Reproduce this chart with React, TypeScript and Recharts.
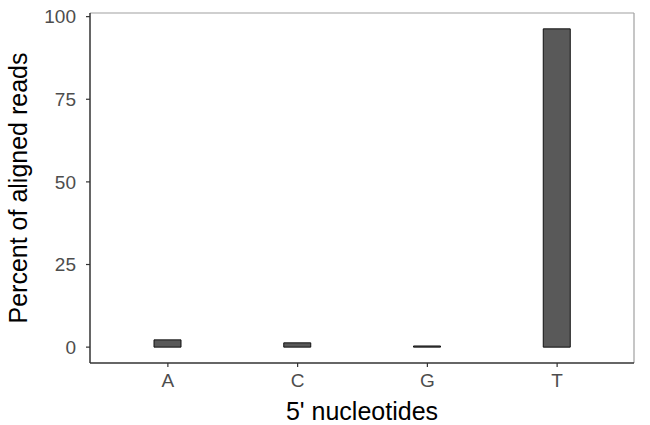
import { BarChart, Bar, XAxis, YAxis, CartesianGrid, Label } from 'recharts'

const nucleotides = ['A', 'C', 'G', 'T']
const percents = [2.2, 1.3, 0.35, 96.3]
const yTicks = [0, 25, 50, 75, 100]

const data = nucleotides.map((name, i) => ({ name, percent: percents[i] }))

const FONT = '"Liberation Sans", Arial, sans-serif'

export default function App() {
  return (
    <div style={{ position: 'absolute', left: 0, top: 0, width: 650, height: 425, background: '#fff' }}>
      <BarChart width={650} height={425} data={data} margin={{ top: 13, right: 16, left: 0, bottom: 0 }}>
        {/* top and right panel border */}
        <CartesianGrid
          stroke="#a0a0a0"
          strokeWidth={1.2}
          horizontalCoordinatesGenerator={({ offset }: any) => [offset.top]}
          verticalCoordinatesGenerator={({ offset }: any) => [offset.left + offset.width]}
        />
        <XAxis
          dataKey="name"
          height={62}
          padding={{ left: 13, right: 12 }}
          tickSize={4}
          tickMargin={7}
          axisLine={{ stroke: '#333', strokeWidth: 1.5 }}
          tickLine={{ stroke: '#333', strokeWidth: 1.2 }}
          tick={{ fill: '#4d4d4d', fontSize: 19, fontFamily: FONT }}
        >
          <Label
            content={() => (
              <text x={362} y={420} textAnchor="middle" fontSize={25} fontFamily={FONT} fill="#000">
                5' nucleotides
              </text>
            )}
          />
        </XAxis>
        <YAxis
          width={90}
          type="number"
          domain={[-4.8, 101.1]}
          ticks={yTicks}
          allowDataOverflow
          tickSize={4}
          tickMargin={10}
          axisLine={{ stroke: '#333', strokeWidth: 1.5 }}
          tickLine={{ stroke: '#333', strokeWidth: 1.2 }}
          tick={{ fill: '#4d4d4d', fontSize: 19, fontFamily: FONT }}
        >
          <Label
            content={() => (
              <text
                x={27}
                y={188}
                transform="rotate(-90 27 188)"
                textAnchor="middle"
                fontSize={25}
                fontFamily={FONT}
                fill="#000"
              >
                Percent of aligned reads
              </text>
            )}
          />
        </YAxis>
        <Bar dataKey="percent" barSize={27} fill="#595959" stroke="#111" strokeWidth={1} isAnimationActive={false} />
      </BarChart>
    </div>
  )
}
